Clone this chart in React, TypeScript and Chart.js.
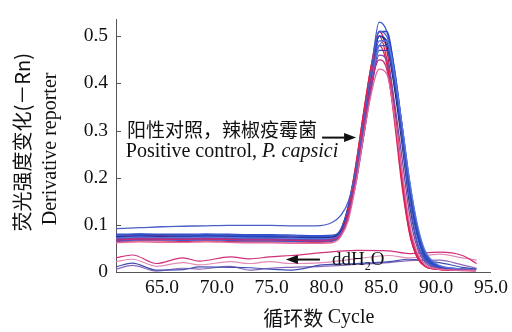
import React, { useEffect, useRef } from "react";
import { Chart, registerables } from "chart.js";
Chart.register(...registerables);

// Temperature grid (x) for positive-control melt curves
const X_POS = [60.8, 63, 65, 67, 69, 71, 73, 75, 77, 79, 80.5, 81.3, 82, 82.7, 83.4, 84.1, 84.8, 85.5, 86.2, 86.9, 87.6, 88.3, 89, 90, 91.5, 93.6];
// Temperature grid (x) for ddH2O negative curves
const X_NEG = [60.8, 62.3, 64.5, 66.9, 68.4, 71.2, 73, 74.8, 76.8, 79.6, 82.7, 85.7, 87.5, 90.3, 92.4, 93.7];

// Positive control curves (P. capsici)
const RED_1 = [0.072, 0.073, 0.073, 0.072, 0.073, 0.072, 0.071, 0.071, 0.070, 0.069, 0.070, 0.085, 0.14, 0.23, 0.34, 0.44, 0.50, 0.45, 0.33, 0.19, 0.08, 0.03, 0.012, 0.006, 0.004, 0.003];
const RED_2 = [0.076, 0.077, 0.077, 0.076, 0.077, 0.076, 0.075, 0.075, 0.074, 0.073, 0.074, 0.09, 0.14, 0.23, 0.34, 0.44, 0.51, 0.47, 0.35, 0.21, 0.09, 0.035, 0.013, 0.006, 0.004, 0.003];
const MAGENTA_1 = [0.068, 0.070, 0.069, 0.069, 0.070, 0.069, 0.068, 0.068, 0.067, 0.066, 0.068, 0.08, 0.12, 0.20, 0.30, 0.40, 0.45, 0.43, 0.33, 0.20, 0.09, 0.035, 0.014, 0.007, 0.004, 0.003];
const PINK_1 = [0.062, 0.064, 0.063, 0.063, 0.064, 0.063, 0.062, 0.062, 0.061, 0.061, 0.062, 0.075, 0.11, 0.19, 0.29, 0.38, 0.43, 0.42, 0.33, 0.21, 0.10, 0.04, 0.015, 0.007, 0.004, 0.003];
const RED_3 = [0.065, 0.066, 0.066, 0.065, 0.066, 0.065, 0.064, 0.064, 0.064, 0.063, 0.065, 0.08, 0.13, 0.22, 0.33, 0.42, 0.48, 0.44, 0.32, 0.18, 0.08, 0.03, 0.012, 0.006, 0.004, 0.003];
const PURPLE_1 = [0.070, 0.071, 0.071, 0.070, 0.071, 0.070, 0.069, 0.069, 0.068, 0.068, 0.069, 0.08, 0.12, 0.20, 0.30, 0.39, 0.46, 0.45, 0.36, 0.24, 0.12, 0.05, 0.02, 0.009, 0.005, 0.004];
const NAVY_1 = [0.074, 0.075, 0.075, 0.074, 0.075, 0.074, 0.073, 0.073, 0.072, 0.072, 0.073, 0.085, 0.13, 0.21, 0.31, 0.42, 0.50, 0.48, 0.39, 0.27, 0.14, 0.06, 0.025, 0.01, 0.005, 0.004];
const BLUE_1 = [0.078, 0.080, 0.079, 0.078, 0.079, 0.078, 0.077, 0.077, 0.076, 0.075, 0.076, 0.088, 0.13, 0.21, 0.31, 0.43, 0.53, 0.51, 0.43, 0.30, 0.17, 0.075, 0.03, 0.012, 0.006, 0.004];
const BLUE_2 = [0.070, 0.072, 0.071, 0.071, 0.072, 0.071, 0.070, 0.070, 0.069, 0.068, 0.069, 0.080, 0.12, 0.20, 0.30, 0.41, 0.50, 0.49, 0.41, 0.29, 0.17, 0.08, 0.035, 0.014, 0.007, 0.005];
const BLUE_3 = [0.080, 0.081, 0.080, 0.080, 0.081, 0.080, 0.079, 0.079, 0.078, 0.077, 0.078, 0.090, 0.14, 0.22, 0.32, 0.42, 0.50, 0.49, 0.41, 0.29, 0.16, 0.075, 0.03, 0.012, 0.006, 0.004];
const BLUE_4 = [0.066, 0.068, 0.068, 0.067, 0.068, 0.067, 0.066, 0.066, 0.065, 0.065, 0.066, 0.078, 0.12, 0.20, 0.30, 0.40, 0.49, 0.49, 0.42, 0.31, 0.19, 0.095, 0.04, 0.015, 0.007, 0.005];
const BLUE_5 = [0.073, 0.075, 0.074, 0.074, 0.075, 0.074, 0.073, 0.072, 0.072, 0.071, 0.072, 0.083, 0.12, 0.20, 0.29, 0.39, 0.47, 0.47, 0.40, 0.29, 0.18, 0.085, 0.035, 0.013, 0.006, 0.004];
const BLUE_HIGH = [0.092, 0.094, 0.096, 0.097, 0.098, 0.099, 0.099, 0.099, 0.098, 0.098, 0.105, 0.12, 0.15, 0.22, 0.32, 0.43, 0.51, 0.50, 0.41, 0.28, 0.15, 0.06, 0.025, 0.01, 0.005, 0.004];
const BLUE_7 = [0.075, 0.077, 0.076, 0.076, 0.077, 0.076, 0.075, 0.075, 0.074, 0.073, 0.074, 0.086, 0.13, 0.21, 0.31, 0.42, 0.51, 0.51, 0.43, 0.31, 0.18, 0.085, 0.035, 0.014, 0.007, 0.005];
const BLUE_8 = [0.069, 0.070, 0.070, 0.069, 0.070, 0.069, 0.068, 0.068, 0.067, 0.067, 0.068, 0.079, 0.12, 0.19, 0.29, 0.40, 0.48, 0.48, 0.41, 0.30, 0.18, 0.09, 0.04, 0.016, 0.008, 0.005];
const BLUE_9 = [0.072, 0.074, 0.073, 0.073, 0.074, 0.073, 0.072, 0.072, 0.071, 0.070, 0.071, 0.082, 0.12, 0.20, 0.30, 0.40, 0.48, 0.49, 0.42, 0.31, 0.19, 0.10, 0.045, 0.018, 0.008, 0.005];

// Negative control (ddH2O) curves
const NEG_MAGENTA = [0.030, 0.036, 0.018, 0.030, 0.023, 0.032, 0.028, 0.032, 0.035, 0.041, 0.046, 0.045, 0.039, 0.042, 0.035, 0.018];
const NEG_PINK = [0.022, 0.027, 0.012, 0.020, 0.015, 0.022, 0.018, 0.022, 0.018, 0.020, 0.028, 0.035, 0.030, 0.038, 0.030, 0.025];
const NEG_BLUE = [0.011, 0.019, 0.004, 0.005, 0.011, 0.010, 0.009, 0.006, 0.004, 0.015, 0.018, 0.022, 0.027, 0.020, 0.010, 0.006];
const NEG_PURPLE = [0.006, 0.014, 0.002, 0.008, 0.006, 0.012, 0.004, 0.008, 0.010, 0.012, 0.016, 0.020, 0.024, 0.025, 0.015, 0.008];

const X_TICKS = [65, 70, 75, 80, 85, 90, 95];
const Y_TICKS = [0, 0.1, 0.2, 0.3, 0.4, 0.5];

const X_TITLE_CN = "循环数 ";
const X_TITLE_EN = "Cycle";
const Y_TITLE_CN = "荧光强度变化(－Rn)";
const Y_TITLE_EN = "Derivative reporter";
const POS_LABEL_CN = "阳性对照，辣椒疫霉菌";
const POS_LABEL_EN = "Positive control, ";
const POS_LABEL_EN_IT = "P. capsici";

const SERIF = "'Liberation Serif', 'Times New Roman', serif";
const CJK = "'Noto Sans CJK SC', sans-serif";

const POS_SERIES: [number[], string][] = [
  [PINK_1, "#e06a9c"],
  [MAGENTA_1, "#c42a78"],
  [PURPLE_1, "#7a4aa8"],
  [BLUE_9, "#5a78de"],
  [BLUE_8, "#3452c4"],
  [BLUE_5, "#2c48bc"],
  [BLUE_4, "#3a5ad0"],
  [BLUE_HIGH, "#4a5fc8"],
  [RED_3, "#e0204a"],
  [BLUE_2, "#2440b8"],
  [BLUE_3, "#3050c8"],
  [NAVY_1, "#1a2066"],
  [BLUE_7, "#2946c0"],
  [RED_1, "#e41c44"],
  [BLUE_1, "#3656cc"],
  [RED_2, "#d01850"],
];
const NEG_SERIES: [number[], string][] = [
  [NEG_MAGENTA, "#d0307a"],
  [NEG_PINK, "#e28ab8"],
  [NEG_BLUE, "#4050b0"],
  [NEG_PURPLE, "#8a66b8"],
];

function drawArrow(ctx: CanvasRenderingContext2D, x0: number, y: number, x1: number) {
  const dir = Math.sign(x1 - x0);
  const head = 12;
  ctx.beginPath();
  ctx.moveTo(x0, y);
  ctx.lineTo(x1 - dir * head, y);
  ctx.lineWidth = 2;
  ctx.strokeStyle = "#111";
  ctx.stroke();
  ctx.beginPath();
  ctx.moveTo(x1, y);
  ctx.lineTo(x1 - dir * head, y - 4.5);
  ctx.lineTo(x1 - dir * head, y + 4.5);
  ctx.closePath();
  ctx.fillStyle = "#111";
  ctx.fill();
}

const annotPlugin = {
  id: "annot",
  afterDraw(chart: any) {
    const ctx: CanvasRenderingContext2D = chart.ctx;
    const xs = chart.scales.x;
    const ys = chart.scales.y;
    ctx.save();
    // inward y ticks
    ctx.strokeStyle = "#555";
    ctx.lineWidth = 1;
    Y_TICKS.forEach((v) => {
      const y = Math.round(ys.getPixelForValue(v)) + 0.5;
      ctx.beginPath();
      ctx.moveTo(xs.left, y);
      ctx.lineTo(xs.left + 5, y);
      ctx.stroke();
    });

    // positive control annotation
    ctx.fillStyle = "#111";
    ctx.textBaseline = "middle";
    ctx.textAlign = "left";
    ctx.font = `19px ${CJK}`;
    ctx.fillText(POS_LABEL_CN, xs.getPixelForValue(61.8), ys.getPixelForValue(0.301));
    ctx.font = `20px ${SERIF}`;
    const ex = xs.getPixelForValue(61.7);
    const ey = ys.getPixelForValue(0.256);
    ctx.fillText(POS_LABEL_EN, ex, ey);
    const w1 = ctx.measureText(POS_LABEL_EN).width;
    ctx.font = `italic 20px ${SERIF}`;
    ctx.fillText(POS_LABEL_EN_IT, ex + w1, ey);
    drawArrow(ctx, xs.getPixelForValue(79.6), ys.getPixelForValue(0.285), xs.getPixelForValue(82.7));

    // ddH2O annotation
    const dy = ys.getPixelForValue(0.0264);
    drawArrow(ctx, xs.getPixelForValue(79.4), dy, xs.getPixelForValue(76.3));
    let dx = xs.getPixelForValue(80.5);
    ctx.fillStyle = "#111";
    ctx.font = `19px ${SERIF}`;
    ctx.fillText("ddH", dx, dy);
    dx += ctx.measureText("ddH").width;
    ctx.font = `12px ${SERIF}`;
    ctx.fillText("2", dx, dy + 7);
    dx += ctx.measureText("2").width;
    ctx.font = `19px ${SERIF}`;
    ctx.fillText("O", dx, dy);

    // x axis title
    ctx.font = `20px ${SERIF}`;
    const enW = ctx.measureText(X_TITLE_EN).width;
    ctx.font = `20px ${CJK}`;
    const cnW = ctx.measureText(X_TITLE_CN).width;
    const cx = xs.getPixelForValue(79.3);
    const startX = cx - (cnW + enW) / 2;
    const ty = chart.height - 14;
    ctx.textAlign = "left";
    ctx.fillText(X_TITLE_CN, startX, ty);
    ctx.font = `20px ${SERIF}`;
    ctx.fillText(X_TITLE_EN, startX + cnW, ty);

    // y axis titles
    ctx.save();
    ctx.translate(22, ys.getPixelForValue(0.275));
    ctx.rotate(-Math.PI / 2);
    ctx.textAlign = "center";
    ctx.font = `20px ${CJK}`;
    ctx.fillText(Y_TITLE_CN, 0, 0);
    ctx.restore();
    ctx.save();
    ctx.translate(51, ys.getPixelForValue(0.261));
    ctx.rotate(-Math.PI / 2);
    ctx.textAlign = "center";
    ctx.font = `20px ${SERIF}`;
    ctx.fillText(Y_TITLE_EN, 0, 0);
    ctx.restore();
    ctx.restore();
  },
};

export default function App() {
  const ref = useRef<HTMLCanvasElement | null>(null);
  useEffect(() => {
    if (!ref.current) return;
    const datasets: any[] = [];
    POS_SERIES.forEach(([vals, color]) => {
      datasets.push({
        data: X_POS.map((x, i) => ({ x, y: vals[i] })),
        borderColor: color,
        borderWidth: 1.3,
        pointRadius: 0,
        fill: false,
        cubicInterpolationMode: "monotone",
      });
    });
    NEG_SERIES.forEach(([vals, color]) => {
      datasets.push({
        data: X_NEG.map((x, i) => ({ x, y: vals[i] })),
        borderColor: color,
        borderWidth: 1.2,
        pointRadius: 0,
        fill: false,
        cubicInterpolationMode: "monotone",
      });
    });
    const chart = new Chart(ref.current, {
      type: "line",
      data: { datasets },
      options: {
        animation: false,
        responsive: false,
        events: [],
        layout: { padding: { top: 9, right: 19, left: 0, bottom: 0 } },
        plugins: { legend: { display: false }, tooltip: { enabled: false } },
        scales: {
          x: {
            type: "linear",
            min: 60.8,
            max: 95,
            afterFit: (s: any) => {
              s.height = 60;
            },
            afterBuildTicks: (s: any) => {
              s.ticks = X_TICKS.map((value) => ({ value }));
            },
            grid: { display: true, drawOnChartArea: false, drawTicks: false },
            border: { display: true, color: "#555", width: 1 },
            ticks: {
              autoSkip: false,
              maxRotation: 0,
              padding: 4,
              color: "#111",
              font: { family: SERIF, size: 19.5 },
              callback: (v: any) => Number(v).toFixed(1),
            },
          },
          y: {
            type: "linear",
            min: 0,
            max: 0.535,
            afterFit: (s: any) => {
              s.width = 116;
            },
            afterBuildTicks: (s: any) => {
              s.ticks = Y_TICKS.map((value) => ({ value }));
            },
            grid: { display: true, drawOnChartArea: false, drawTicks: false },
            border: { display: true, color: "#555", width: 1 },
            ticks: {
              padding: 8,
              color: "#111",
              font: { family: SERIF, size: 19.5 },
              callback: (v: any) => (Number(v) === 0 ? "0" : Number(v).toFixed(1)),
            },
          },
        },
      },
      plugins: [annotPlugin],
    });
    return () => chart.destroy();
  }, []);
  return (
    <div style={{ position: "fixed", left: 0, top: 0, width: 512, height: 332, background: "#fff" }}>
      <canvas ref={ref} width={512} height={332} style={{ display: "block" }} />
    </div>
  );
}
